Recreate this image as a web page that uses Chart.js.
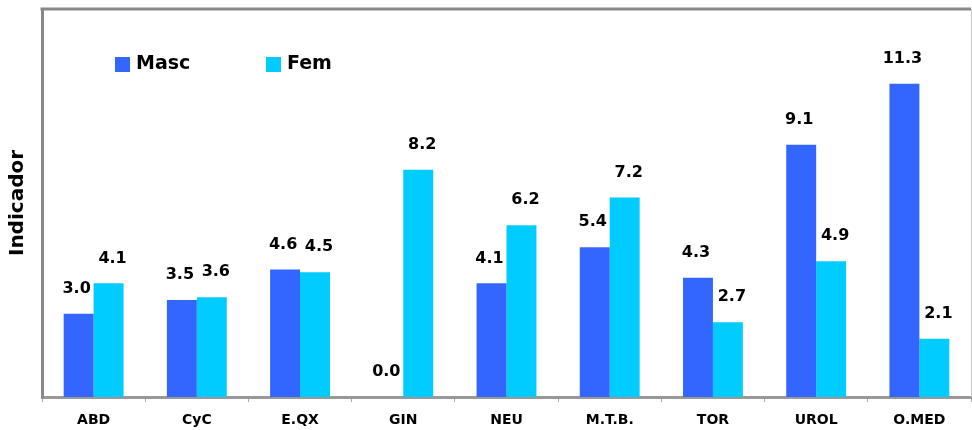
<!DOCTYPE html>
<html lang="es">
<head>
  <meta charset="UTF-8">
  <title>Indicador por servicio</title>
  <script src="https://cdn.jsdelivr.net/npm/chart.js"></script>
  <style>
    body { margin: 0; background: #fff; }
    #wrap { width: 972px; height: 430px; }
  </style>
</head>
<body>
  <div id="wrap"><canvas id="chart"></canvas></div>

  <script>
    const servicios = ["ABD", "CyC", "E.QX", "GIN", "NEU", "M.T.B.", "TOR", "UROL", "O.MED"];
    const masc = [3.0, 3.5, 4.6, 0.0, 4.1, 5.4, 4.3, 9.1, 11.3];
    const fem = [4.1, 3.6, 4.5, 8.2, 6.2, 7.2, 2.7, 4.9, 2.1];

    const FONT = "'DejaVu Sans', Verdana, sans-serif";

    // etiquetas de valor encima de cada barra
    const valueLabels = {
      id: "valueLabels",
      afterDatasetsDraw(chart) {
        const ctx = chart.ctx;
        const shift = [-2, 4];
        ctx.save();
        ctx.font = "bold 16px " + FONT;
        ctx.fillStyle = "#000";
        ctx.textAlign = "center";
        ctx.textBaseline = "middle";
        chart.data.datasets.forEach((ds, i) => {
          chart.getDatasetMeta(i).data.forEach((bar, j) => {
            ctx.fillText(ds.data[j].toFixed(1), bar.x + shift[i], bar.y - 25);
          });
        });
        ctx.restore();
      }
    };

    // leyenda dentro del area y marco superior/derecho
    const frameLegend = {
      id: "frameLegend",
      afterDraw(chart) {
        const ctx = chart.ctx;
        const a = chart.chartArea;
        ctx.save();
        ctx.strokeStyle = "#888";
        ctx.lineWidth = 3;
        ctx.beginPath();
        ctx.moveTo(a.left - 1.5, a.top);
        ctx.lineTo(a.right, a.top);
        ctx.stroke();
        ctx.strokeStyle = "#c8c8c8";
        ctx.lineWidth = 1;
        ctx.beginPath();
        ctx.moveTo(a.right + 0.5, a.top);
        ctx.lineTo(a.right + 0.5, a.bottom);
        ctx.stroke();

        const xs = [115, 266];
        ctx.font = "bold 19px " + FONT;
        ctx.textBaseline = "middle";
        chart.data.datasets.forEach((ds, i) => {
          ctx.fillStyle = ds.backgroundColor;
          ctx.fillRect(xs[i], 57, 15, 15);
          ctx.fillStyle = "#000";
          ctx.fillText(ds.label, xs[i] + 21, 64);
        });
        ctx.restore();
      }
    };

    new Chart(document.getElementById("chart"), {
      type: "bar",
      data: {
        labels: servicios,
        datasets: [
          { label: "Masc", data: masc, backgroundColor: "#3366FF" },
          { label: "Fem", data: fem, backgroundColor: "#00CCFF" }
        ]
      },
      options: {
        responsive: true,
        maintainAspectRatio: false,
        animation: false,
        layout: { padding: { top: 9, right: 1, bottom: 0, left: 0 } },
        datasets: { bar: { categoryPercentage: 0.58, barPercentage: 1.0 } },
        plugins: {
          legend: { display: false },
          tooltip: { enabled: false }
        },
        scales: {
          x: {
            grid: { display: true, drawOnChartArea: false, drawTicks: true, tickLength: 5, color: "#aaa", offset: true },
            border: { color: "#999", width: 3 },
            ticks: { color: "#000", font: { family: FONT, size: 14, weight: "bold" }, padding: 10 },
            afterFit(scale) { scale.height = 33; }
          },
          y: {
            min: 0,
            max: 14,
            grid: { display: false },
            border: { color: "#888", width: 3 },
            ticks: { display: false },
            title: { display: true, text: "Indicador", color: "#000", font: { family: FONT, size: 20, weight: "bold" }, padding: { top: 6, bottom: 0 } },
            afterFit(scale) { scale.width = 42; }
          }
        }
      },
      plugins: [valueLabels, frameLegend]
    });
  </script>
</body>
</html>
